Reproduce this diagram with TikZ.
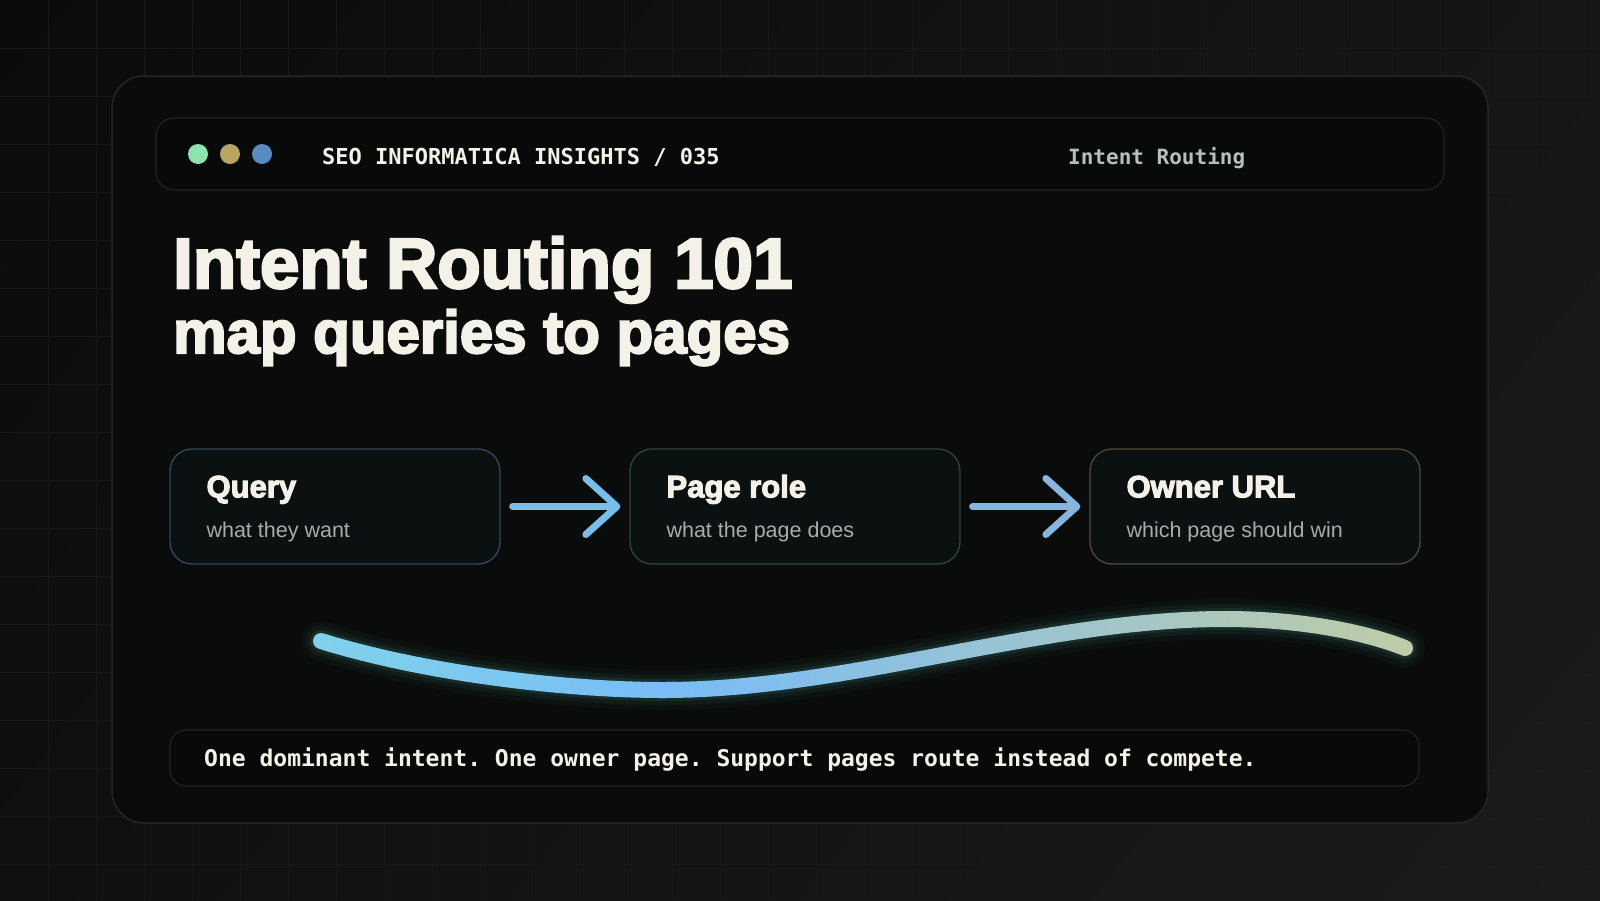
\documentclass[tikz,border=0pt]{standalone}
\usepackage{fontspec}
\setmainfont{Liberation Sans}
\setmonofont{DejaVu Sans Mono}
\newfontfamily\headfont{Liberation Sans Bold}[FakeBold=3.5]
\usepackage{tikz}
\usetikzlibrary{positioning, calc, arrows.meta, shadings}
\definecolor{bgA}{HTML}{0A0C0B}
\definecolor{bgB}{HTML}{141714}
\definecolor{bgC}{HTML}{0F110F}
\definecolor{bgD}{HTML}{1B1C19}
\definecolor{gridc}{HTML}{161A17}
\definecolor{panelfill}{HTML}{0A0C0B}
\definecolor{panelline}{HTML}{232825}
\definecolor{barfill}{HTML}{080A09}
\definecolor{barline}{HTML}{1F2421}
\definecolor{cardfill}{HTML}{0B1110}
\definecolor{edgeblue}{HTML}{34495A}
\definecolor{edgegreen}{HTML}{33443A}
\definecolor{edgegold}{HTML}{4F4A36}
\definecolor{cream}{HTML}{F4F1E8}
\definecolor{mutedtext}{HTML}{A6AEA8}
\definecolor{tagtext}{HTML}{B6C0BA}
\definecolor{dotgreen}{HTML}{8FE3AD}
\definecolor{dotgold}{HTML}{B8A55F}
\definecolor{dotblue}{HTML}{5A8AC4}
\definecolor{flowA}{HTML}{76BFEA}
\definecolor{flowB}{HTML}{86B5DE}
\definecolor{cyanL}{HTML}{80D2EA}
\definecolor{blueM}{HTML}{78BCF8}
\definecolor{sageR}{HTML}{BFCCA6}
\definecolor{glowc}{HTML}{2F5E55}
\tikzset{
  panel/.style={draw=panelline, fill=panelfill, rounded corners=32pt, line width=1.5pt, inner sep=0pt},
  bar/.style={draw=barline, fill=barfill, rounded corners=18pt, line width=1.2pt, inner sep=0pt},
  card/.style={fill=cardfill, rounded corners=22pt, line width=1.3pt, minimum width=330pt, minimum height=115pt, inner sep=0pt},
  cardhead/.style={anchor=base west, inner sep=0pt, text=cream, font=\headfont\fontsize{31}{31}\selectfont},
  cardsub/.style={anchor=base west, inner sep=0pt, text=mutedtext, font=\fontsize{21.5}{21.5}\selectfont},
  monotext/.style={anchor=base west, inner sep=0pt, font=\ttfamily\bfseries\fontsize{22}{22}\selectfont},
  flow/.style={line width=7pt, line cap=round, -{Straight Barb[length=31pt, width=56pt, line width=7pt, round]}},
  gridline/.style={draw=gridc, line width=0.8pt},
  wave/.style={line width=16pt, line cap=round}
}
\newcommand{\wavecurve}[1]{\draw[#1] (321,641) .. controls (420,672) and (560,690) .. (663,690) .. controls (850,690) and (1040,619) .. (1225,619) .. controls (1300,619) and (1365,632) .. (1405,648);}

\begin{document}
\begin{tikzpicture}[x=1pt, y=-1pt]
  \useasboundingbox (0,0) rectangle (1600,900);
  % Backdrop and grid
  \shade[upper left=bgA, upper right=bgB, lower left=bgC, lower right=bgD] (0,0) rectangle (1600,900);
  \foreach \gx in {48,96,...,1584} \draw[gridline] (\gx,0) -- (\gx,900);
  \foreach \gy in {48,96,...,864} \draw[gridline] (0,\gy) -- (1600,\gy);

  % Window
  \node[panel, minimum width=1376pt, minimum height=747pt] (window) at (800,449.5) {};
  \node[bar, minimum width=1288pt, minimum height=72pt] (topbar) at (800,154) {};
  \fill[dotgreen] (198,154) circle (10);
  \fill[dotgold] (230,154) circle (10);
  \fill[dotblue] (262,154) circle (10);
  \node[monotext, text=cream] (brand) at (322,164) {SEO INFORMATICA INSIGHTS / 035};
  \node[monotext, text=tagtext, font=\ttfamily\bfseries\fontsize{21}{21}\selectfont] (tag) at (1068,164) {Intent Routing};

  % Headline
  \node[anchor=base west, inner sep=0pt, text=cream, font=\headfont\fontsize{71}{71}\selectfont] (title) at (173,288) {Intent Routing 101};
  \node[anchor=base west, inner sep=0pt, text=cream, font=\headfont\fontsize{60}{60}\selectfont] (subtitle) at (173,353) {map queries to pages};

  % Routing cards
  \node[card, draw=edgeblue] (query) at (335,506.5) {};
  \node[card, draw=edgegreen] (role) at (795,506.5) {};
  \node[card, draw=edgegold] (owner) at (1255,506.5) {};
  \node[cardhead] (queryT) at ($(query.north west)+(37,49)$) {Query};
  \node[cardsub] (queryS) at ($(query.north west)+(37,89)$) {what they want};
  \node[cardhead] (roleT) at ($(role.north west)+(37,49)$) {Page role};
  \node[cardsub] (roleS) at ($(role.north west)+(37,89)$) {what the page does};
  \node[cardhead] (ownerT) at ($(owner.north west)+(37,49)$) {Owner URL};
  \node[cardsub] (ownerS) at ($(owner.north west)+(37,89)$) {which page should win};
  \draw[flow, flowA] ($(query.east)+(12,0)$) -- ($(role.west)+(-9,0)$);
  \draw[flow, flowB] ($(role.east)+(12,0)$) -- ($(owner.west)+(-9,0)$);

  % Glowing wave
  \wavecurve{line width=40pt, line cap=round, draw=glowc, opacity=0.08}
  \wavecurve{line width=30pt, line cap=round, draw=glowc, opacity=0.14}
  \wavecurve{line width=22pt, line cap=round, draw=glowc, opacity=0.25}
  \foreach \i in {0,...,24} {
    \pgfmathsetmacro\sx{300+15*\i}
    \pgfmathtruncatemacro\mixp{4*\i}
    \begin{scope}
      \clip (\sx,560) rectangle ++(16,160);
      \wavecurve{wave, draw=blueM!\mixp!cyanL}
    \end{scope}
  }
  \foreach \i in {0,...,50} {
    \pgfmathsetmacro\sx{660+15*\i}
    \pgfmathtruncatemacro\mixp{2*\i}
    \begin{scope}
      \clip (\sx,560) rectangle ++(16,160);
      \wavecurve{wave, draw=sageR!\mixp!blueM}
    \end{scope}
  }

  % Footer line
  \node[bar, rounded corners=16pt, minimum width=1249pt, minimum height=56pt] (footer) at (794.5,758) {};
  \node[monotext, text=cream, font=\ttfamily\bfseries\fontsize{23}{23}\selectfont] (motto) at (204,766) {One dominant intent. One owner page. Support pages route instead of compete.};
\end{tikzpicture}
\end{document}
